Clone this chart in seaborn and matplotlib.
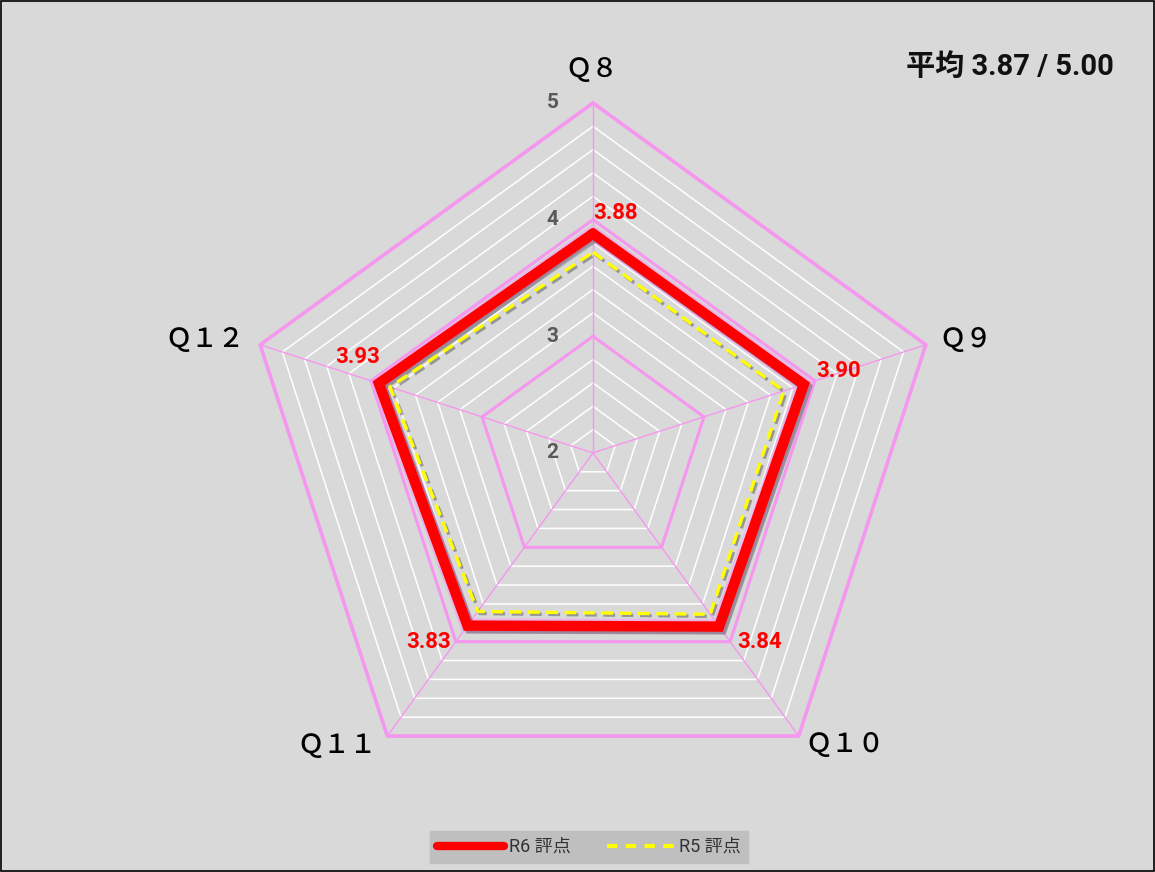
import numpy as np
import matplotlib
matplotlib.use("Agg")
import matplotlib.pyplot as plt
import matplotlib.patheffects as pe
from matplotlib.lines import Line2D
from matplotlib.patches import Rectangle
import seaborn as sns

# data
questions = ["Ｑ８", "Ｑ９", "Ｑ１０", "Ｑ１１", "Ｑ１２"]
r6_scores = [3.88, 3.90, 3.84, 3.83, 3.93]
r5_scores = [3.72, 3.72, 3.71, 3.68, 3.83]
r6_labels = ["3.88", "3.90", "3.84", "3.83", "3.93"]
series_names = ["R6 評点", "R5 評点"]
r_ticks = [2, 3, 4, 5]
title_text = "平均 3.87 / 5.00"

sns.set_theme(style="white")
plt.rcParams['font.family'] = ['Roboto', 'Noto Sans CJK JP', 'DejaVu Sans']

bg = "#d9d9d9"
pink = "#f597ef"

fig = plt.figure(figsize=(11.55, 8.72), dpi=100, facecolor=bg)
ax = fig.add_axes([0.2104, 0.0791, 0.606, 0.803], projection='polar')
ax.set_theta_offset(np.pi / 2)
ax.set_theta_direction(-1)
ax.set_ylim(2, 5)
ax.grid(False)
ax.set_xticks([])
ax.set_yticks([])
ax.spines['polar'].set_visible(False)
ax.patch.set_alpha(0)

theta = np.linspace(0, 2 * np.pi, len(questions), endpoint=False)
theta_c = np.append(theta, theta[0])

# minor grid (every 0.2)
for lvl in [2.2, 2.4, 2.6, 2.8, 3.2, 3.4, 3.6, 3.8, 4.2, 4.4, 4.6, 4.8]:
    ax.plot(theta_c, [lvl] * len(theta_c), color="white", lw=1.1, zorder=1, clip_on=False)
# spokes
for t in theta:
    ax.plot([t, t], [2, 5], color=pink, lw=1.0, zorder=2, clip_on=False)
# major grid
for lvl, lw in [(3, 2.2), (4, 2.2), (5, 2.6)]:
    ax.plot(theta_c, [lvl] * len(theta_c), color=pink, lw=lw, zorder=2, clip_on=False)

# series
r6_c = np.append(r6_scores, r6_scores[0])
r5_c = np.append(r5_scores, r5_scores[0])
sns.lineplot(x=theta_c, y=r6_c, sort=False, estimator=None, ax=ax, color="#ff0000", lw=7.5,
             solid_joinstyle="miter", zorder=4, clip_on=False,
             path_effects=[pe.Stroke(linewidth=10.5, foreground="#f0a8ee", alpha=0.7),
                           pe.SimpleLineShadow(offset=(2, -2), shadow_color="#555555", alpha=0.5),
                           pe.Normal()])
sns.lineplot(x=theta_c, y=r5_c, sort=False, estimator=None, ax=ax, color="#ffff00", lw=2.4,
             linestyle=(0, (3.5, 2)), zorder=5, clip_on=False,
             path_effects=[pe.SimpleLineShadow(offset=(1.5, -1.5), shadow_color="#555555", alpha=0.5),
                           pe.Normal()])
if ax.get_legend() is not None:
    ax.get_legend().remove()

# value labels
val_offsets = [(16, 15), (25, 10), (29, -11), (-28, -12), (-15, 19)]
for t, v, lab, off in zip(theta, r6_scores, r6_labels, val_offsets):
    ax.annotate(lab, xy=(t, v), xytext=off, textcoords="offset points", ha="center", va="center",
                color="#ff0000", fontsize=16, fontweight="bold", zorder=6)

# category labels
cat_offsets = [(-1, 24), (29, 4), (33, -6), (-36, -7), (-40, 4)]
for t, q, off in zip(theta, questions, cat_offsets):
    ax.annotate(q, xy=(t, 5), xytext=off, textcoords="offset points", ha="center", va="center",
                fontsize=19, color="#000000", family=['Noto Sans CJK JP'], fontweight="medium",
                annotation_clip=False)

# radial tick labels
for r in r_ticks:
    ax.annotate(str(r), xy=(0, r), xytext=(-29, 0), textcoords="offset points", ha="center",
                va="center", fontsize=15, fontweight="bold", color="#595959", annotation_clip=False)

# title
fig.text(0.874, 0.923, title_text, ha="center", va="center", fontsize=21, fontweight="bold",
         color="#111111")

# legend
handles = [Line2D([], [], color="#ff0000", lw=6, solid_capstyle="round"),
           Line2D([], [], color="#ffff00", lw=3, linestyle=(0, (2.5, 2)))]
leg = fig.legend(handles, series_names, loc="center", bbox_to_anchor=(0.51, 0.0287), ncol=2,
                 frameon=True, facecolor="#bfbfbf", edgecolor="#bfbfbf", framealpha=1,
                 fancybox=False, fontsize=13, handlelength=3.7, columnspacing=2.0,
                 handletextpad=0.3, borderpad=0.4, borderaxespad=0)
for txt in leg.get_texts():
    txt.set_color("#333333")

# figure border
fig.patches.append(Rectangle((0.001, 0.001), 0.998, 0.998, transform=fig.transFigure,
                             fill=False, edgecolor="black", lw=1.2))

fig.savefig("out.png", dpi=100, facecolor=bg)
